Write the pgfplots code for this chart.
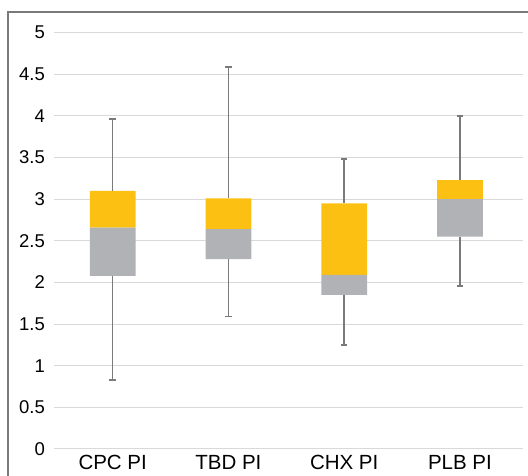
\documentclass[border=0pt]{standalone}
\usepackage{fontspec}
\setmainfont{Liberation Sans}
\usepackage{pgfplots}
\pgfplotsset{compat=1.18}
\usepackage{pgfplotstable}

\definecolor{boxyellow}{HTML}{FCC012}
\definecolor{boxgray}{HTML}{B1B2B5}
\definecolor{whisk}{HTML}{7A7A7A}
\definecolor{gridc}{HTML}{D9D9D9}

% q1, med-q1, q3-med, q1-min, max-q3
\pgfplotstableread{
x base lowbox highbox lowwhisk highwhisk
0 2.08 0.58 0.44 1.25 0.86
1 2.28 0.36 0.37 0.69 1.58
2 1.85 0.24 0.86 0.60 0.53
3 2.55 0.45 0.23 0.59 0.77
}\boxdata

\pgfplotsset{whiskers/.style={
  error bars/y dir=#1, error bars/y explicit,
  error bars/error mark=|,
  error bars/error mark options={draw=whisk, line width=1.6pt, mark size=3.2pt},
  error bars/error bar style={draw=whisk, line width=1.6pt}}}

\begin{document}
\begin{tikzpicture}[x=1pt,y=1pt]
\useasboundingbox (0,0) rectangle (528,476);
\draw[whisk, line width=1.3pt] (8,-20) -- (8,464) -- (560,464);
\begin{axis}[
  at={(54pt,27pt)}, anchor=south west,
  scale only axis, width=469pt, height=416.3pt,
  xmin=-0.507, xmax=3.545, ymin=0, ymax=5,
  ybar stacked, bar width=0.395,
  xtick={0,1,2,3},
  xticklabels={CPC PI,TBD PI,CHX PI,PLB PI},
  ytick={0,0.5,...,5},
  axis line style={draw=none},
  major tick length=0pt,
  ymajorgrids, grid style={gridc, line width=1pt},
  /pgf/number format/assume math mode=true,
  xticklabel style={font=\fontsize{20.5}{20.5}\selectfont, anchor=base, yshift=-21pt, inner sep=0pt},
  yticklabel style={font=\fontsize{18.5}{18.5}\selectfont, anchor=east, xshift=-9pt, inner sep=0pt},
]
\addplot[fill=none, draw=none, whiskers=minus]
  table[x=x, y=base, y error=lowwhisk] {\boxdata};
\addplot[draw=none, fill=boxgray] table[x=x, y=lowbox] {\boxdata};
\addplot[fill=boxyellow, draw=none, whiskers=plus]
  table[x=x, y=highbox, y error=highwhisk] {\boxdata};
\end{axis}
\end{tikzpicture}
\end{document}
